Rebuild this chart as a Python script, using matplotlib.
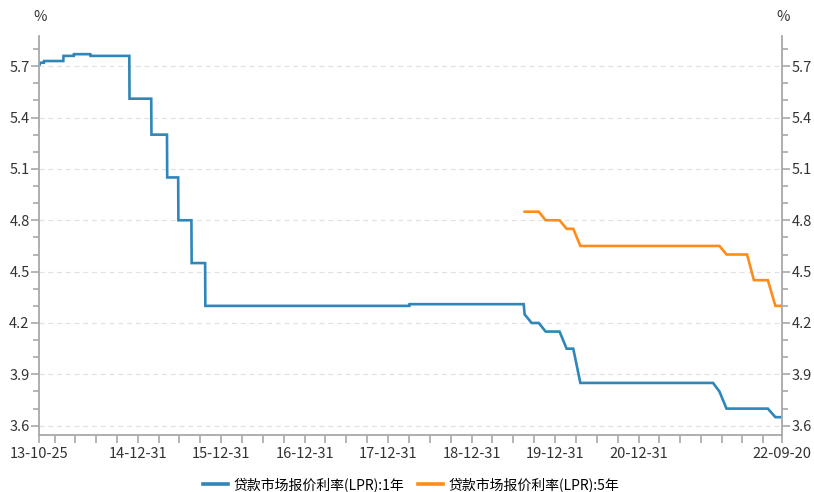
import matplotlib
matplotlib.use("Agg")
import matplotlib.pyplot as plt
import matplotlib.dates as mdates
import numpy as np
import pandas as pd

plt.rcParams['font.family'] = ['Noto Sans CJK SC', 'DejaVu Sans']

# 1-year LPR before the August 2019 reform: dates on which the quoted level changed
lpr1y_old_dates = ["2013-10-25", "2013-10-28", "2013-11-15", "2014-02-08", "2014-03-26",
                   "2014-06-06", "2014-11-24", "2015-02-28", "2015-05-08", "2015-06-26",
                   "2015-08-23", "2015-10-22", "2018-04-03"]
lpr1y_old_values = [5.71, 5.72, 5.73, 5.76, 5.77,
                    5.76, 5.51, 5.30, 5.05, 4.80,
                    4.55, 4.30, 4.31]
lpr1y_old_last = "2019-08-16"

# Monthly quotes after the reform (published around the 20th)
lpr_new_dates = ["2019-08-20", "2019-09-20", "2019-10-21", "2019-11-20", "2019-12-20",
                 "2020-01-20", "2020-02-20", "2020-03-20", "2020-04-20", "2020-05-20",
                 "2020-06-22", "2020-07-20", "2020-08-20", "2020-09-21", "2020-10-20",
                 "2020-11-20", "2020-12-21", "2021-01-20", "2021-02-20", "2021-03-22",
                 "2021-04-20", "2021-05-20", "2021-06-21", "2021-07-20", "2021-08-20",
                 "2021-09-22", "2021-10-20", "2021-11-22", "2021-12-20", "2022-01-20",
                 "2022-02-21", "2022-03-21", "2022-04-20", "2022-05-20", "2022-06-20",
                 "2022-07-20", "2022-08-22", "2022-09-20"]
lpr1y_new = [4.25, 4.20, 4.20, 4.15, 4.15,
             4.15, 4.05, 4.05, 3.85, 3.85,
             3.85, 3.85, 3.85, 3.85, 3.85,
             3.85, 3.85, 3.85, 3.85, 3.85,
             3.85, 3.85, 3.85, 3.85, 3.85,
             3.85, 3.85, 3.85, 3.80, 3.70,
             3.70, 3.70, 3.70, 3.70, 3.70,
             3.70, 3.65, 3.65]
lpr5y_new = [4.85, 4.85, 4.85, 4.80, 4.80,
             4.80, 4.75, 4.75, 4.65, 4.65,
             4.65, 4.65, 4.65, 4.65, 4.65,
             4.65, 4.65, 4.65, 4.65, 4.65,
             4.65, 4.65, 4.65, 4.65, 4.65,
             4.65, 4.65, 4.65, 4.65, 4.60,
             4.60, 4.60, 4.60, 4.45, 4.45,
             4.45, 4.30, 4.30]

label_1y = "贷款市场报价利率(LPR):1年"
label_5y = "贷款市场报价利率(LPR):5年"
x_start, x_end = "2013-10-25", "2022-09-20"
year_end_labels = ["14-12-31", "15-12-31", "16-12-31", "17-12-31",
                   "18-12-31", "19-12-31", "20-12-31"]

color_1y = "#2f86b8"
color_5y = "#ff8c1a"
axis_color = "#a8a8a8"

# Daily quotes held their level between change dates: expand into a step path
old_d = pd.to_datetime(lpr1y_old_dates)
xs, ys = [old_d[0]], [lpr1y_old_values[0]]
for i in range(1, len(old_d)):
    xs.append(old_d[i] - pd.Timedelta(days=1))
    ys.append(lpr1y_old_values[i - 1])
    xs.append(old_d[i])
    ys.append(lpr1y_old_values[i])
xs.append(pd.Timestamp(lpr1y_old_last))
ys.append(lpr1y_old_values[-1])
new_d = pd.to_datetime(lpr_new_dates)
x1 = list(xs) + list(new_d)
y1 = list(ys) + list(lpr1y_new)

fig = plt.figure(figsize=(8.14, 4.92), dpi=100)
ax = fig.add_axes([0.0483, 0.1152, 0.9124, 0.8116])

ax.plot(x1, y1, color=color_1y, lw=1.9, label=label_1y, solid_joinstyle="miter")
ax.plot(new_d, lpr5y_new, color=color_5y, lw=1.9, label=label_5y, solid_joinstyle="miter")

ax.set_xlim(pd.Timestamp(x_start), pd.Timestamp(x_end))
ax.margins(y=0.05)
ax.autoscale(axis="y")

# y axis on both sides
ax.set_yticks(np.round(np.arange(3.6, 5.71, 0.3), 1))
ax.set_yticks(np.round(np.arange(3.6, 5.81, 0.1), 1), minor=True)
ax.yaxis.set_major_formatter(matplotlib.ticker.FormatStrFormatter("%.1f"))
ax.tick_params(axis="y", which="both", left=True, right=True, labelleft=True,
               labelright=True, colors=axis_color, labelcolor="#333333",
               labelsize=10.5, pad=1, width=1.2)
ax.tick_params(axis="y", which="major", length=6)
ax.tick_params(axis="y", which="minor", length=4.5)

# x axis: quarter-end minor ticks, year-end labels plus the range ends
maj = [pd.Timestamp(x_start)] + [pd.Timestamp("20" + s[:2] + "-12-31") for s in year_end_labels] \
      + [pd.Timestamp(x_end)]
maj_labels = [x_start[2:]] + year_end_labels + [x_end[2:]]
ax.set_xticks([mdates.date2num(d) for d in maj])
ax.set_xticklabels(maj_labels)
quarter_ends = pd.date_range(x_start, x_end, freq="QE")
ax.set_xticks([mdates.date2num(d) for d in quarter_ends], minor=True)
ax.tick_params(axis="x", which="both", direction="out", length=5.5, width=1.2,
               colors=axis_color, labelcolor="#333333", labelsize=10.5, pad=3)

for side in ("left", "right", "bottom"):
    ax.spines[side].set_color(axis_color)
    ax.spines[side].set_linewidth(1.3)
ax.spines["top"].set_visible(False)

ax.grid(axis="y", which="major", color="#e2e2e2", lw=0.9, ls=(0, (4, 3)))
ax.set_axisbelow(True)

fig.text(0.049, 0.965, "%", ha="center", va="center", fontsize=10.5, color="#333333")
fig.text(0.962, 0.965, "%", ha="center", va="center", fontsize=10.5, color="#333333")

leg = fig.legend(loc="center", bbox_to_anchor=(0.505, 0.015), ncol=2, frameon=False,
                 fontsize=10, handlelength=1.8, handletextpad=0.4, columnspacing=1.0)
for h in leg.get_lines():
    h.set_linewidth(2.6)

fig.savefig("out.png", dpi=100)
